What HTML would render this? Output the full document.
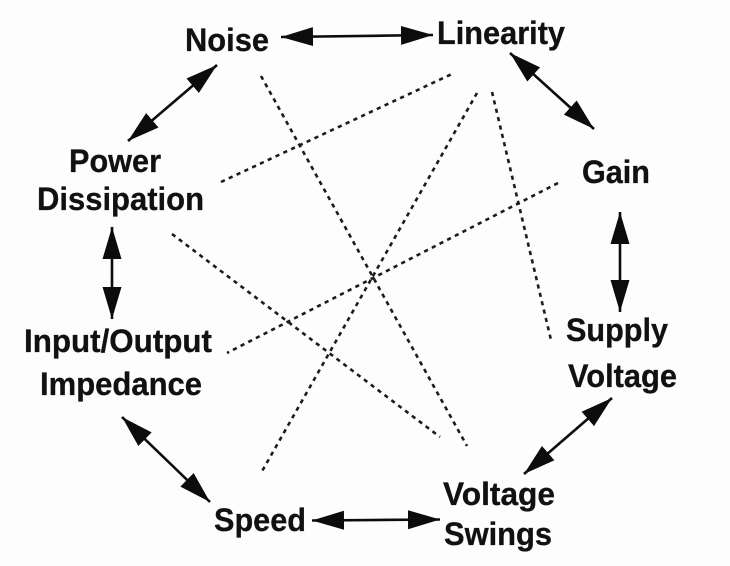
<!DOCTYPE html>
<html>
<head>
<meta charset="utf-8">
<style>
html,body{margin:0;padding:0;background:#fff;}
svg{display:block;filter:blur(0.35px);}
text{font-family:"Liberation Sans",Arial,sans-serif;font-weight:bold;font-size:32px;fill:#111;stroke:#111;stroke-width:0.3px;}
.d{stroke:#1c1c1c;stroke-width:2.6;stroke-dasharray:4.2 4.4;fill:none;}
.a{stroke:#0c0c0c;stroke-width:2.6;fill:none;}
.h{fill:#0c0c0c;stroke:none;}
</style>
</head>
<body>
<svg width="730" height="566" viewBox="0 0 730 566" xmlns="http://www.w3.org/2000/svg">
<defs>
<marker id="m" viewBox="0 0 32 20" refX="32" refY="10" markerWidth="32" markerHeight="20" markerUnits="userSpaceOnUse" orient="auto-start-reverse">
<path d="M0 0.5 L32 10 L0 19.5 Z" class="h"/>
</marker>
</defs>
<rect width="730" height="566" fill="#fdfdfd"/>

<text x="185" y="51" textLength="84" lengthAdjust="spacingAndGlyphs">Noise</text>
<text x="437" y="44" textLength="128" lengthAdjust="spacingAndGlyphs">Linearity</text>
<text x="582" y="183" textLength="68" lengthAdjust="spacingAndGlyphs">Gain</text>
<text x="566" y="341" textLength="102" lengthAdjust="spacingAndGlyphs">Supply</text>
<text x="568" y="387" textLength="109" lengthAdjust="spacingAndGlyphs">Voltage</text>
<text x="443" y="505" textLength="112" lengthAdjust="spacingAndGlyphs">Voltage</text>
<text x="444" y="545" textLength="108" lengthAdjust="spacingAndGlyphs">Swings</text>
<text x="214" y="531" textLength="92" lengthAdjust="spacingAndGlyphs">Speed</text>
<text x="24" y="352" textLength="188" lengthAdjust="spacingAndGlyphs">Input/Output</text>
<text x="40" y="395" textLength="162" lengthAdjust="spacingAndGlyphs">Impedance</text>
<text x="69" y="172" textLength="92" lengthAdjust="spacingAndGlyphs">Power</text>
<text x="37" y="210" textLength="167" lengthAdjust="spacingAndGlyphs">Dissipation</text>

<line class="a" x1="281" y1="37" x2="433" y2="35" marker-start="url(#m)" marker-end="url(#m)"/>
<line class="a" x1="510" y1="53" x2="594" y2="129" marker-start="url(#m)" marker-end="url(#m)"/>
<line class="a" x1="620" y1="212" x2="620" y2="312" marker-start="url(#m)" marker-end="url(#m)"/>
<line class="a" x1="612" y1="398" x2="524" y2="474" marker-start="url(#m)" marker-end="url(#m)"/>
<line class="a" x1="440" y1="519.5" x2="312" y2="520.5" marker-start="url(#m)" marker-end="url(#m)"/>
<line class="a" x1="210" y1="502" x2="122" y2="417" marker-start="url(#m)" marker-end="url(#m)"/>
<line class="a" x1="112" y1="319" x2="112" y2="227" marker-start="url(#m)" marker-end="url(#m)"/>
<line class="a" x1="128" y1="141" x2="217" y2="65" marker-start="url(#m)" marker-end="url(#m)"/>

<line class="d" x1="261" y1="76" x2="467" y2="446"/>
<line class="d" x1="221" y1="182" x2="454" y2="73"/>
<line class="d" x1="477" y1="93" x2="261" y2="473"/>
<line class="d" x1="492" y1="92" x2="551" y2="340"/>
<line class="d" x1="558" y1="183" x2="227" y2="353"/>
<line class="d" x1="172" y1="234" x2="440" y2="437"/>
</svg>
</body>
</html>
